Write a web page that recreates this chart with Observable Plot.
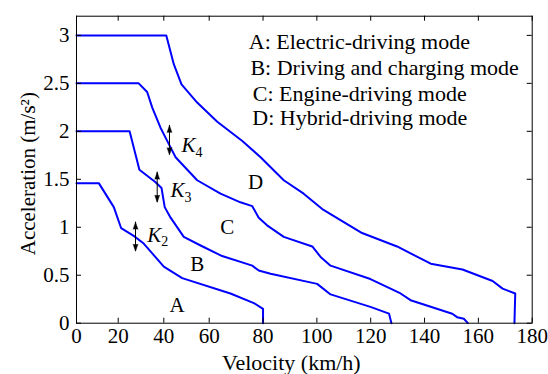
<!DOCTYPE html>
<html>
<head>
<meta charset="utf-8">
<script src="https://cdn.jsdelivr.net/npm/d3@7"></script>
<script src="https://cdn.jsdelivr.net/npm/@observablehq/plot@0.6"></script>
<style>
  html, body { margin: 0; padding: 0; background: #fff; }
  #chart { width: 548px; height: 374px; overflow: hidden; font-family: 'Liberation Serif'; }
</style>
</head>
<body>
<div id="chart"></div>
<script>
// ---- data ----
const modeLetters = ["A", "B", "C", "D"];
const modeNames = ["Electric-driving mode", "Driving and charging mode", "Engine-driving mode", "Hybrid-driving mode"];

// boundary A (electric-driving limit)
const boundA_v = [0, 10.7, 17.9, 21.3, 26.8, 31.2, 35.6, 40, 48.1, 67.9, 76.6, 80, 80];
const boundA_a = [1.46, 1.46, 1.21, 0.99, 0.91, 0.83, 0.71, 0.59, 0.47, 0.31, 0.21, 0.15, 0];
// boundary B
const boundB_v = [0, 25, 29.3, 36.4, 39.0, 40.4, 43.0, 48.8, 56.2, 64.8, 76.0, 78.4, 82.8, 100.1, 105.1, 119.9, 126.8, 127.7];
const boundB_a = [2.0, 2.0, 1.60, 1.47, 1.41, 1.21, 1.10, 0.90, 0.81, 0.70, 0.60, 0.55, 0.515, 0.41, 0.30, 0.17, 0.10, 0];
// boundary C
const boundC_v = [0, 29, 32.7, 34.9, 38.5, 41.5, 45.2, 54.7, 64.2, 71.6, 76.0, 78.4, 81.5, 87.7, 98.3, 101.4, 105.1, 119.9, 131.1, 134.8, 139.7, 150.3, 152.1, 154.6, 156.1];
const boundC_a = [2.5, 2.5, 2.41, 2.25, 2.04, 1.90, 1.73, 1.49, 1.35, 1.26, 1.22, 1.10, 1.02, 0.90, 0.80, 0.69, 0.60, 0.46, 0.31, 0.24, 0.195, 0.098, 0.063, 0.046, 0];
// boundary D
const boundD_v = [0, 41.1, 44.4, 47.8, 54.7, 63.0, 72.3, 79.1, 87.7, 95.1, 102.0, 116.8, 129.8, 142.3, 154.1, 165.3, 169.0, 173.7, 173.4];
const boundD_a = [3.0, 3.0, 2.70, 2.49, 2.30, 2.10, 1.90, 1.73, 1.49, 1.35, 1.19, 0.94, 0.80, 0.62, 0.56, 0.44, 0.36, 0.31, 0];

// K-arrows (velocity, lower and upper acceleration)
const kNames = ["2", "3", "4"];
const kArrow_v = [27.6, 37.1, 42.5];
const kArrow_low = [0.75, 1.26, 1.755];
const kArrow_high = [1.053, 1.574, 2.061];

// tick labels
const xTicks = [0, 20, 40, 60, 80, 100, 120, 140, 160, 180];
const yTicks = [0, 0.5, 1, 1.5, 2, 2.5, 3];

// ---- build tables ----
const bounds = [
  {v: boundA_v, a: boundA_a}, {v: boundB_v, a: boundB_a},
  {v: boundC_v, a: boundC_a}, {v: boundD_v, a: boundD_a}
];
const lineData = bounds.flatMap((b, k) => b.v.map((v, i) => ({mode: modeLetters[k], v, a: b.a[i]})));
const arrowData = kNames.map((n, i) => ({v: kArrow_v[i], lo: kArrow_low[i], hi: kArrow_high[i]}));

// ---- layout ----
const W = 548, H = 374;
const mL = 76, mR = 16.3, mT = 15.7, mB = 51.3;
const frameW = W - mL - mR, frameH = H - mT - mB;
const serif = "Liberation Serif";
const FS = 21;

// annotation placement (axis units)
const legendPos = [[74.7, 2.936], [75.3, 2.66], [76.2, 2.389], [76.0, 2.139]];
const letterPos = [[45.9, 0.185], [54.7, 0.619], [66.7, 1.0], [77.2, 1.47]];
const kPos = [[32.7, 0.914], [42.95, 1.383], [47.8, 1.852]];

const legendData = modeLetters.map((m, i) => ({t: m + ": " + modeNames[i], x: legendPos[i][0], y: legendPos[i][1]}));
const letterData = modeLetters.map((m, i) => ({t: m, x: letterPos[i][0], y: letterPos[i][1]}));
const kData = kNames.map((n, i) => ({t: n, x: kPos[i][0], y: kPos[i][1]}));

const txt = {fontFamily: serif, fill: "#000"};
const head = {shape: "spike", length: 7, r: 2.4, anchor: "end", fill: "#000", stroke: "#000", strokeWidth: 0.5};

const chart = Plot.plot({
  width: W,
  height: H,
  marginLeft: mL, marginRight: mR, marginTop: mT, marginBottom: mB,
  style: {fontFamily: serif, fontSize: FS + "px", background: "#fff", color: "#000"},
  x: {type: "linear", domain: [0, 20, 40, 60, 180], range: [mL, 117.7, 163.3, 208.7, W - mR]},
  y: {domain: [0, 3.2]},
  marks: [
    Plot.line(lineData, {x: "v", y: "a", z: "mode", stroke: "#0000ff", strokeWidth: 2, strokeLinejoin: "round"}),
    Plot.frame({stroke: "#000", strokeWidth: 1}),
    Plot.tickX(xTicks, {x: d => d, insetTop: frameH - 5, stroke: "#000", strokeWidth: 1}),
    Plot.tickX(xTicks, {x: d => d, insetBottom: frameH - 5, stroke: "#000", strokeWidth: 1}),
    Plot.tickY(yTicks, {y: d => d, insetRight: frameW - 5, stroke: "#000", strokeWidth: 1}),
    Plot.tickY(yTicks, {y: d => d, insetLeft: frameW - 5, stroke: "#000", strokeWidth: 1}),
    Plot.axisX(xTicks, {anchor: "bottom", tickSize: 0, tickPadding: 4.5, tickFormat: d => String(d), label: null, fontSize: FS, ...txt}),
    Plot.axisY(yTicks, {anchor: "left", tickSize: 0, tickPadding: 7, tickFormat: d => String(d), label: null, fontSize: FS, ...txt}),
    Plot.text(["Velocity (km/h)"], {frameAnchor: "bottom", textAnchor: "middle", lineAnchor: "middle", dx: -13, dy: 39.8, fontSize: 22, ...txt}),
    Plot.text(["Acceleration (m/s\u00B2)"], {frameAnchor: "left", textAnchor: "middle", lineAnchor: "middle", rotate: -90, dx: -48.5, dy: 4, fontSize: FS, ...txt}),
    Plot.text(legendData, {x: "x", y: "y", text: "t", textAnchor: "start", fontSize: 22, ...txt}),
    Plot.text(letterData, {x: "x", y: "y", text: "t", textAnchor: "middle", fontSize: FS, ...txt}),
    Plot.text(kData, {x: "x", y: "y", text: () => "K", textAnchor: "start", fontStyle: "italic", fontSize: FS, ...txt}),
    Plot.text(kData, {x: "x", y: "y", text: "t", textAnchor: "start", dx: 14, dy: 6.5, fontSize: 14, ...txt}),
    // double arrows: shaft + filled heads
    Plot.ruleX(arrowData, {x: "v", y1: "lo", y2: "hi", stroke: "#000", strokeWidth: 1}),
    Plot.vector(arrowData, {x: "v", y: "hi", rotate: 0, ...head}),
    Plot.vector(arrowData, {x: "v", y: "lo", rotate: 180, ...head})
  ]
});
document.getElementById("chart").appendChild(chart);
</script>
</body>
</html>
